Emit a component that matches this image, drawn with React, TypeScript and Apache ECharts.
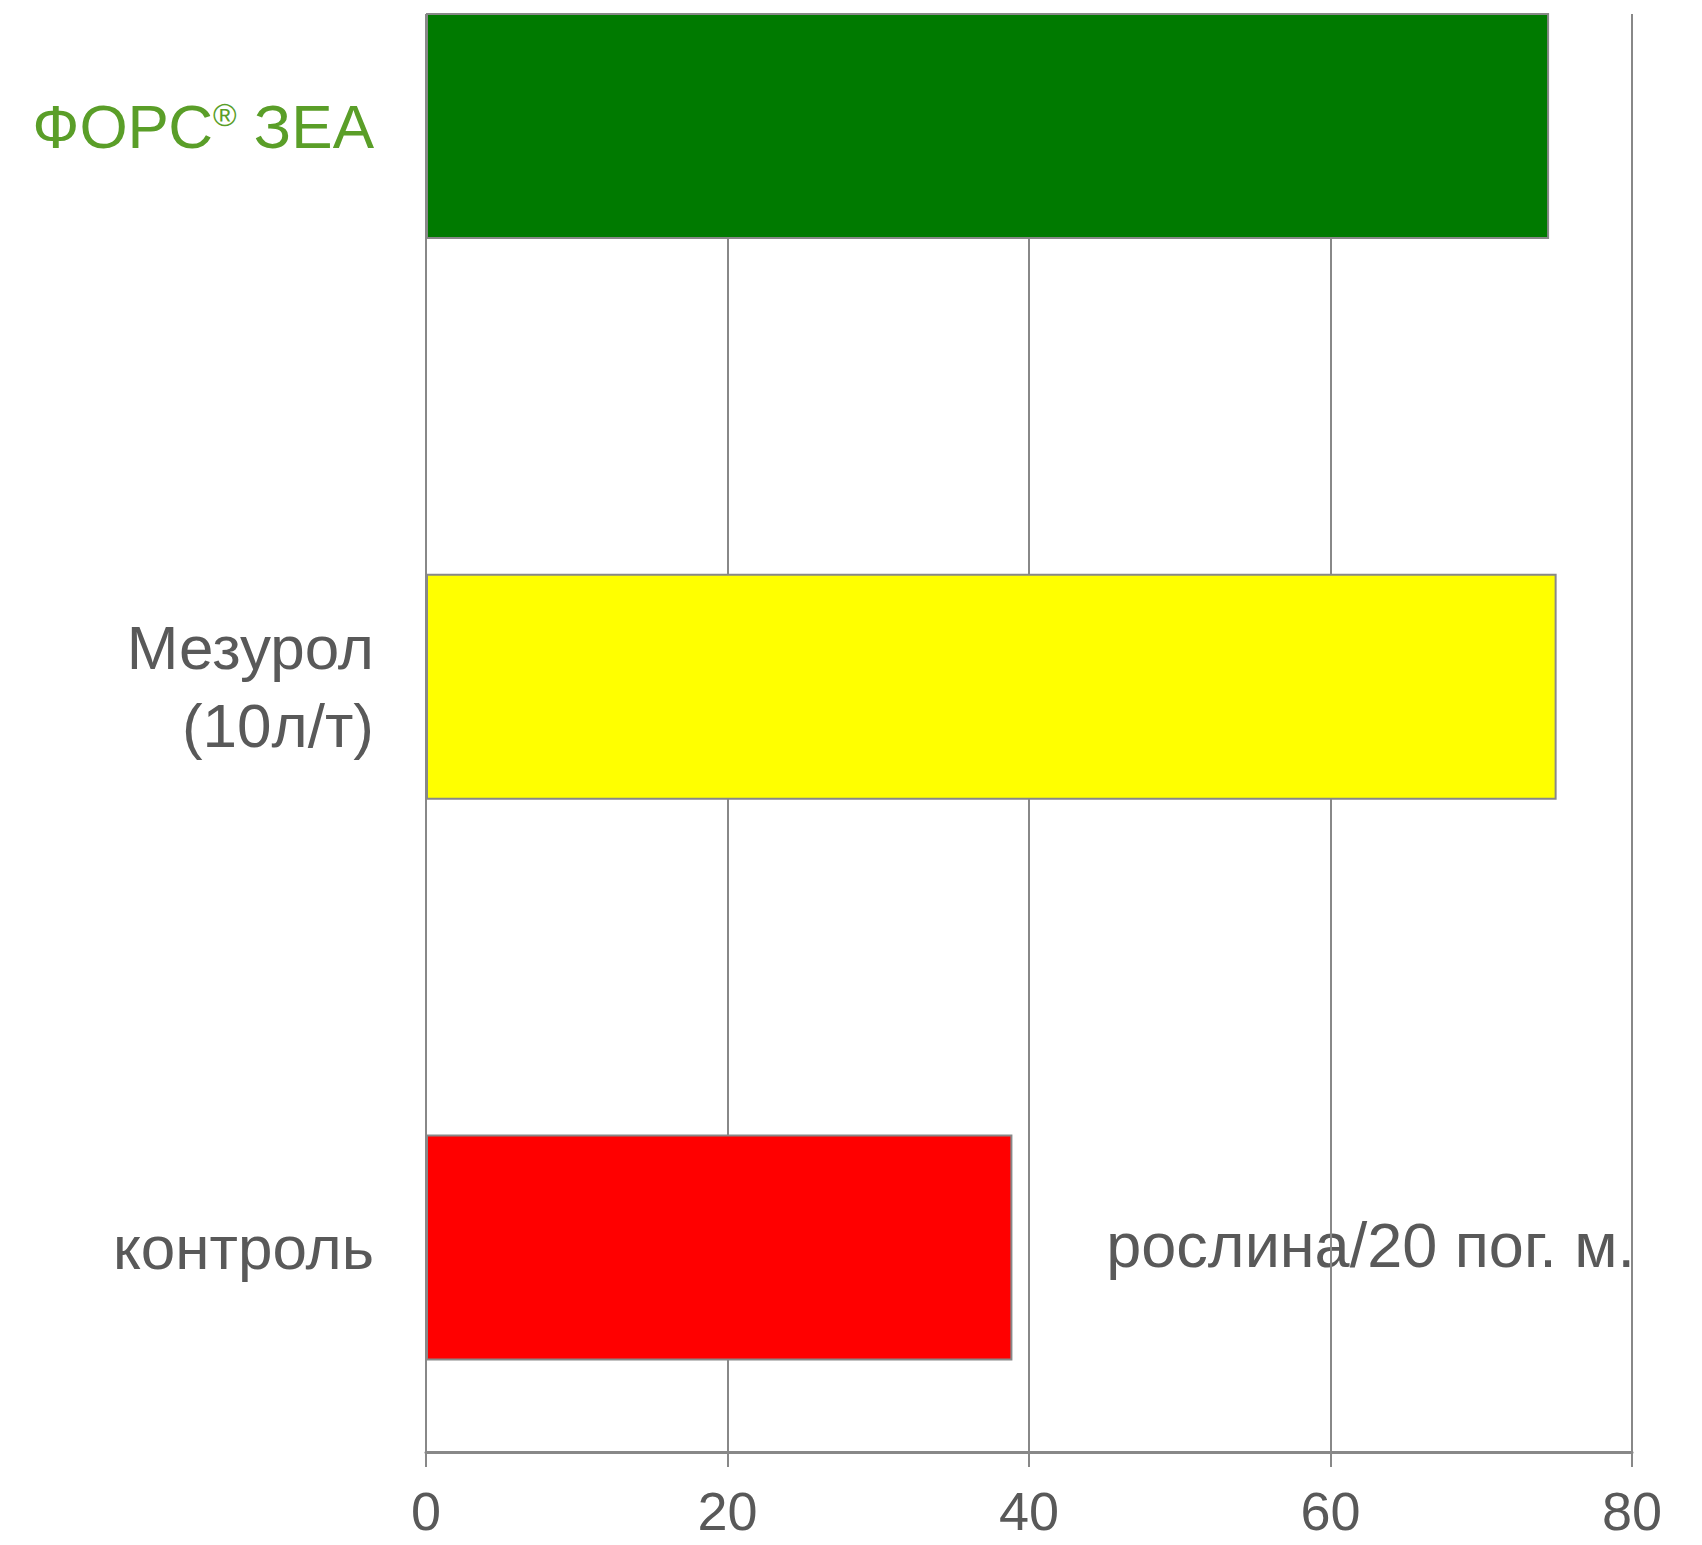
import React, { useEffect, useRef } from "react";
import * as echarts from "echarts";

const categories: string[] = ["ФОРС® ЗЕА", "Мезурол\n(10л/т)", "контроль"];
const values: number[] = [74.5, 75.0, 38.9];
const barColors: string[] = ["#007a00", "#ffff00", "#ff0000"];
const xTicks: number[] = [0, 20, 40, 60, 80];
const unitLabel = "рослина/20 пог. м.";

const FONT = "'Liberation Sans', Arial, Helvetica, sans-serif";

export default function App() {
  const ref = useRef<HTMLDivElement | null>(null);

  useEffect(() => {
    if (!ref.current) return;
    const chart = echarts.init(ref.current, undefined, { renderer: "svg" });
    const left = 426;
    const right = 70;
    const option: echarts.EChartsOption = {
      animation: false,
      backgroundColor: "#ffffff",
      grid: [
        { left, right, top: 14, bottom: 93, containLabel: false },
        { left, right, top: 126, height: 1121.5, containLabel: false },
      ],
      xAxis: [
        {
          type: "value",
          gridIndex: 0,
          min: xTicks[0],
          max: xTicks[xTicks.length - 1],
          interval: 20,
          axisLine: { show: true, lineStyle: { color: "#888888", width: 3 } },
          axisTick: { show: true, length: 15, lineStyle: { color: "#888888", width: 2 } },
          splitLine: { show: true, lineStyle: { color: "#888888", width: 2 } },
          axisLabel: {
            color: "#595959",
            fontFamily: FONT,
            fontSize: 54,
            lineHeight: 50,
            margin: 34,
          },
        },
        {
          type: "value",
          gridIndex: 1,
          min: 0,
          max: 80,
          interval: 20,
          show: false,
        },
      ],
      yAxis: [
        {
          type: "category",
          gridIndex: 0,
          data: categories,
          show: false,
        },
        {
          type: "category",
          gridIndex: 1,
          data: categories,
          inverse: true,
          boundaryGap: false,
          axisLine: { show: false },
          axisTick: { show: false },
          splitLine: { show: false },
          axisLabel: {
            fontFamily: FONT,
            fontSize: 62,
            lineHeight: 78,
            margin: 52,
            align: "right",
            color: "#595959",
            formatter: (v: string) => {
              if (v.indexOf("®") >= 0) {
                const parts = v.split("®");
                return `{g|${parts[0]}}{r|®}{g|${parts[1]}}`;
              }
              return v;
            },
            rich: {
              g: { color: "#5a9e28", fontFamily: FONT, fontSize: 62, lineHeight: 78 },
              r: {
                color: "#5a9e28",
                fontFamily: FONT,
                fontSize: 32,
                verticalAlign: "top",
                padding: [12, 0, 0, 0],
              },
            },
          },
        },
      ],
      series: [
        {
          type: "bar",
          xAxisIndex: 1,
          yAxisIndex: 1,
          barWidth: 226,
          clip: false,
          data: values.map((v, i) => ({
            value: v,
            itemStyle: { color: barColors[i], borderColor: "#888888", borderWidth: 2 },
          })),
          silent: true,
        },
      ],
      graphic: [
        {
          type: "text",
          right: 67,
          top: 1213,
          style: {
            text: unitLabel,
            fill: "#595959",
            font: `63px ${FONT}`,
          },
        },
      ],
    };
    chart.setOption(option);
    return () => chart.dispose();
  }, []);

  return (
    <div
      ref={ref}
      style={{ position: "fixed", left: 0, top: 0, width: 1702, height: 1545, background: "#fff" }}
    />
  );
}
